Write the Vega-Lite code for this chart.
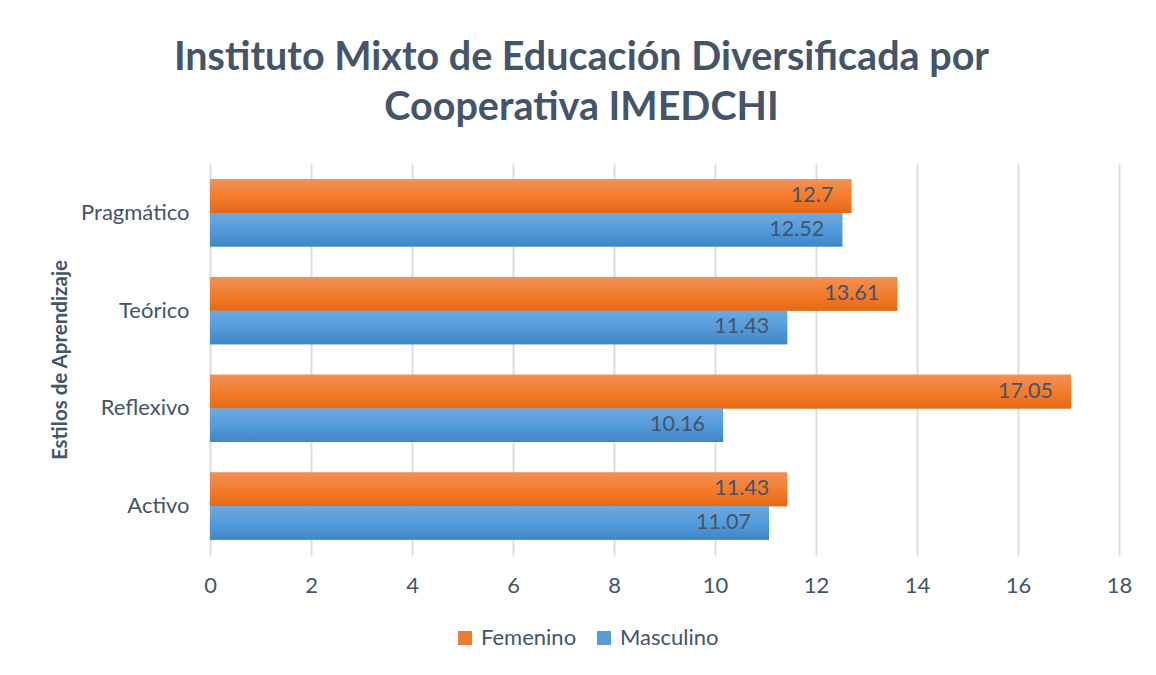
{
  "$schema": "https://vega.github.io/schema/vega-lite/v6.json",
  "autosize": {"type": "none"},
  "width": 909,
  "height": 391,
  "padding": {"left": 210, "top": 164, "right": 37, "bottom": 120},
  "background": "white",
  "title": {
    "text": ["Instituto Mixto de Educación Diversificada por", "Cooperativa IMEDCHI"],
    "anchor": "middle",
    "dx": -83,
    "offset": 36,
    "font": "Lato",
    "fontSize": 39.5,
    "fontWeight": "bold",
    "color": "#44546A",
    "lineHeight": 50
  },
  "data": {
    "values": [
      {"estilo": "Pragmático", "sexo": "Femenino", "valor": 12.7},
      {"estilo": "Pragmático", "sexo": "Masculino", "valor": 12.52},
      {"estilo": "Teórico", "sexo": "Femenino", "valor": 13.61},
      {"estilo": "Teórico", "sexo": "Masculino", "valor": 11.43},
      {"estilo": "Reflexivo", "sexo": "Femenino", "valor": 17.05},
      {"estilo": "Reflexivo", "sexo": "Masculino", "valor": 10.16},
      {"estilo": "Activo", "sexo": "Femenino", "valor": 11.43},
      {"estilo": "Activo", "sexo": "Masculino", "valor": 11.07}
    ]
  },
  "encoding": {
    "y": {
      "field": "estilo",
      "type": "nominal",
      "sort": ["Pragmático", "Teórico", "Reflexivo", "Activo"],
      "scale": {"paddingInner": 0.31, "paddingOuter": 0.155},
      "axis": {
        "title": "Estilos de Aprendizaje",
        "titleFont": "Lato",
        "titleFontSize": 20.5,
        "titleFontWeight": "bold",
        "titleColor": "#44546A",
        "titlePadding": 10,
        "labelFont": "Lato",
        "labelFontSize": 22,
        "labelColor": "#44546A",
        "labelPadding": 21,
        "ticks": false,
        "domain": false,
        "grid": false
      }
    },
    "yOffset": {"field": "sexo", "type": "nominal", "sort": ["Femenino", "Masculino"], "scale": {"paddingInner": 0, "paddingOuter": 0}},
    "x": {
      "field": "valor",
      "type": "quantitative",
      "scale": {"domain": [0, 18], "nice": false},
      "axis": {
        "title": null,
        "values": [0, 2, 4, 6, 8, 10, 12, 14, 16, 18],
        "labelFlush": false,
        "labelFont": "Lato",
        "labelFontSize": 22,
        "labelColor": "#44546A",
        "labelPadding": 20,
        "ticks": false,
        "domain": false,
        "grid": true,
        "gridColor": "#D9DEE6",
        "gridWidth": 2
      }
    }
  },
  "layer": [
    {
      "mark": {"type": "bar"},
      "encoding": {
        "color": {
          "field": "sexo",
          "type": "nominal",
          "scale": {"domain": ["Femenino", "Masculino"], "range": ["#ED7D31", "#5B9BD5"]},
          "legend": {
            "title": null,
            "orient": "none",
            "legendX": 244,
            "legendY": 463,
            "direction": "horizontal",
            "symbolType": "square",
            "symbolSize": 196,
            "symbolStrokeWidth": 0,
            "labelFont": "Lato",
            "labelFontSize": 22,
            "labelColor": "#44546A",
            "labelOffset": 5,
            "columnPadding": 16
          }
        }
      }
    },
    {
      "mark": {"type": "bar"},
      "encoding": {
        "color": {
          "condition": {
            "test": "datum.sexo === 'Femenino'",
            "value": {
              "gradient": "linear", "x1": 0, "y1": 0, "x2": 0, "y2": 1,
              "stops": [
                {"offset": 0, "color": "#F19158"},
                {"offset": 0.5, "color": "#F47C2C"},
                {"offset": 1, "color": "#E56A17"}
              ]
            }
          },
          "value": {
            "gradient": "linear", "x1": 0, "y1": 0, "x2": 0, "y2": 1,
            "stops": [
              {"offset": 0, "color": "#6EA9E0"},
              {"offset": 0.5, "color": "#549BDB"},
              {"offset": 1, "color": "#4086C8"}
            ]
          }
        }
      }
    },
    {
      "mark": {"type": "text", "align": "right", "baseline": "middle", "dx": -18, "font": "Lato", "fontSize": 21.5, "color": "#44546A"},
      "encoding": {"text": {"field": "valor", "type": "quantitative"}}
    }
  ],
  "config": {"view": {"stroke": null}}
}
